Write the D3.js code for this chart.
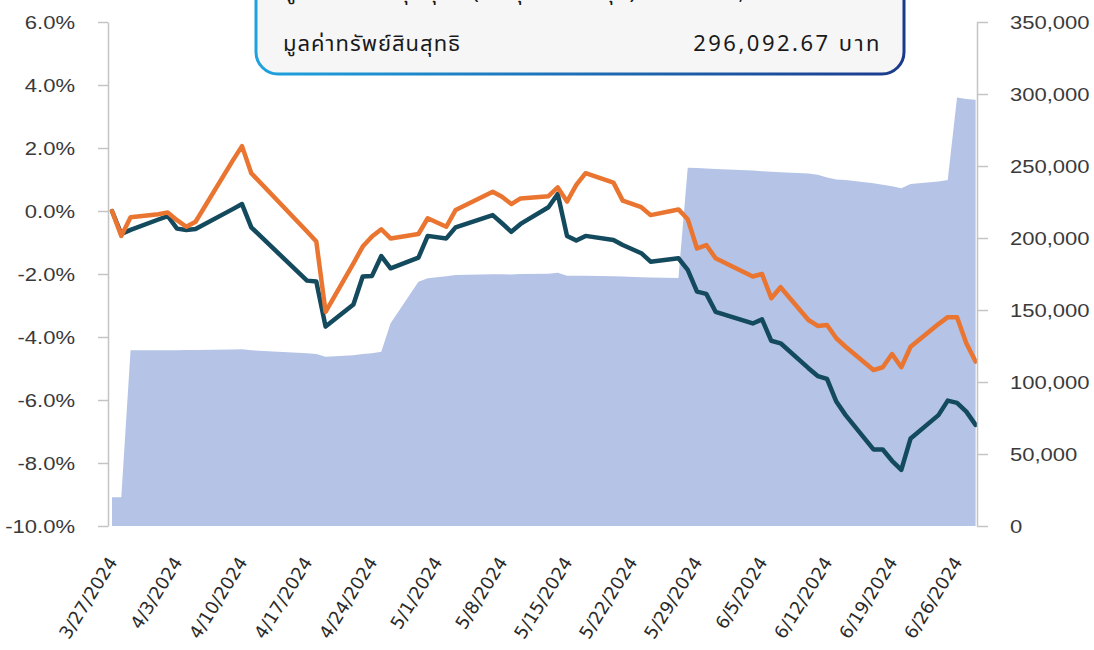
<!DOCTYPE html>
<html>
<head>
<meta charset="utf-8">
<script src="https://cdn.jsdelivr.net/npm/d3@7"></script>
<style>
  html, body { margin: 0; padding: 0; background: #ffffff; }
  svg { display: block; }
</style>
</head>
<body>
<svg id="chart" width="1094" height="650"></svg>
<script>
// ---------------- DATA ----------------
const dates = ["2024-03-27","2024-03-28","2024-03-29","2024-04-01","2024-04-02","2024-04-03","2024-04-04","2024-04-05","2024-04-09","2024-04-10","2024-04-11","2024-04-17","2024-04-18","2024-04-19","2024-04-22","2024-04-23","2024-04-24","2024-04-25","2024-04-26","2024-04-29","2024-04-30","2024-05-02","2024-05-03","2024-05-07","2024-05-08","2024-05-09","2024-05-10","2024-05-13","2024-05-14","2024-05-15","2024-05-16","2024-05-17","2024-05-20","2024-05-21","2024-05-23","2024-05-24","2024-05-27","2024-05-28","2024-05-29","2024-05-30","2024-05-31","2024-06-04","2024-06-05","2024-06-06","2024-06-07","2024-06-10","2024-06-11","2024-06-12","2024-06-13","2024-06-14","2024-06-17","2024-06-18","2024-06-19","2024-06-20","2024-06-21","2024-06-24","2024-06-25","2024-06-26","2024-06-27","2024-06-28"];

// return series A (orange), %
const returnA = [0.00,-0.79,-0.20,-0.10,-0.05,-0.29,-0.50,-0.34,1.60,2.06,1.20,-0.65,-0.97,-3.20,-1.66,-1.13,-0.81,-0.58,-0.87,-0.73,-0.23,-0.50,0.03,0.61,0.45,0.22,0.40,0.47,0.75,0.30,0.83,1.20,0.90,0.33,0.12,-0.13,0.05,-0.26,-1.19,-1.08,-1.50,-2.08,-2.00,-2.77,-2.42,-3.46,-3.65,-3.62,-4.04,-4.31,-5.05,-4.96,-4.54,-4.96,-4.31,-3.59,-3.37,-3.37,-4.20,-4.78];

// return series B (dark teal), %
const returnB = [0.00,-0.73,-0.60,-0.27,-0.16,-0.56,-0.60,-0.57,0.06,0.22,-0.52,-2.21,-2.24,-3.67,-2.97,-2.08,-2.06,-1.43,-1.82,-1.48,-0.79,-0.87,-0.52,-0.13,-0.39,-0.66,-0.41,0.12,0.54,-0.79,-0.94,-0.79,-0.92,-1.08,-1.34,-1.61,-1.50,-1.87,-2.56,-2.63,-3.20,-3.57,-3.44,-4.12,-4.20,-4.99,-5.24,-5.33,-6.05,-6.48,-7.57,-7.57,-7.93,-8.22,-7.22,-6.48,-6.02,-6.09,-6.37,-6.79];

// net asset value (area, right axis), baht
const navValues = [20000,20000,122000,122000,122000,122100,122200,122300,122600,122700,122000,120000,119400,117600,118600,119400,120000,121000,140800,169700,172000,173500,174300,174800,174800,174600,175000,175200,175900,173800,173800,173700,173500,173300,172800,172500,172200,248800,248600,248300,248000,246800,246300,246000,245700,244800,244000,242100,240700,240300,238000,237000,236000,234500,237500,239200,240300,297500,296600,296092.67];

const leftTicks = [-10,-8,-6,-4,-2,0,2,4,6];
const rightTicks = [0,50000,100000,150000,200000,250000,300000,350000];
const xTickDates = ["2024-03-27","2024-04-03","2024-04-10","2024-04-17","2024-04-24","2024-05-01","2024-05-08","2024-05-15","2024-05-22","2024-05-29","2024-06-05","2024-06-12","2024-06-19","2024-06-26"];

const boxRow1Label = "มูลค่าเงินลงทุนสุทธิ (ต้นทุนการลงทุน)";
const boxRow1Value = "280,000.00 บาท";
const boxRow2Label = "มูลค่าทรัพย์สินสุทธิ";
const boxRow2Value = "296,092.67 บาท";

// ---------------- CHART ----------------
const svg = d3.select("#chart");
const parse = d3.utcParse("%Y-%m-%d");
const rows = dates.map((d, i) => ({ date: parse(d), a: returnA[i], b: returnB[i], nav: navValues[i] }));

const axisLeftX = 108, axisRightX = 977, yTop = 22, yBottom = 526;

const x = d3.scaleUtc()
  .domain([parse("2024-03-27"), parse("2024-06-28")])
  .range([112, 975.6]);
const yL = d3.scaleLinear().domain([-10, 6]).range([yBottom, yTop]);
const yR = d3.scaleLinear().domain([0, 350000]).range([yBottom, yTop]);

// area
svg.append("path")
  .datum(rows)
  .attr("fill", "#b4c3e6")
  .attr("d", d3.area().x(d => x(d.date)).y0(yR(0)).y1(d => yR(d.nav)));

// lines
svg.append("path")
  .datum(rows)
  .attr("fill", "none")
  .attr("stroke", "#144a5e")
  .attr("stroke-width", 4.5)
  .attr("stroke-linejoin", "round")
  .attr("stroke-linecap", "round")
  .attr("d", d3.line().x(d => x(d.date)).y(d => yL(d.b)));

svg.append("path")
  .datum(rows)
  .attr("fill", "none")
  .attr("stroke", "#e97531")
  .attr("stroke-width", 4.5)
  .attr("stroke-linejoin", "round")
  .attr("stroke-linecap", "round")
  .attr("d", d3.line().x(d => x(d.date)).y(d => yL(d.a)));

// axes
const sx = 1.16;
const gL = svg.append("g").attr("transform", `translate(${axisLeftX},0)`)
  .call(d3.axisLeft(yL).tickValues(leftTicks).tickSize(10).tickSizeOuter(0)
    .tickFormat(d => d.toFixed(1) + "%"));
const gR = svg.append("g").attr("transform", `translate(${axisRightX},0)`)
  .call(d3.axisRight(yR).tickValues(rightTicks).tickSize(11).tickSizeOuter(0)
    .tickFormat(d3.format(",")));
[gL, gR].forEach(g => {
  g.select(".domain").attr("stroke", "#c4c4c4").attr("stroke-width", 1.5);
  g.selectAll(".tick line").attr("stroke", "#c4c4c4").attr("stroke-width", 1.5);
  g.selectAll(".tick text")
    .attr("font-family", "'Liberation Sans', Arial, sans-serif")
    .attr("font-size", 19)
    .attr("fill", "#3a3a3a")
    .attr("dy", "0.35em");
});
gL.selectAll(".tick text").attr("x", -33 / sx).attr("transform", `scale(${sx},1)`);
gR.selectAll(".tick text").attr("x", 33 / sx).attr("transform", `scale(${sx},1)`);

// x labels
const fmtX = d3.utcFormat("%-m/%-d/%Y");
svg.append("g").selectAll("text")
  .data(xTickDates.map(parse))
  .join("text")
  .attr("transform", d => `translate(${x(d) + 6},562) rotate(-58)`)
  .attr("text-anchor", "end")
  .attr("font-family", "'DejaVu Sans', Verdana, sans-serif")
  .attr("font-size", 18)
  .attr("fill", "#2a2a2a")
  .text(d => fmtX(d));

// info box
const defs = svg.append("defs");
const grad = defs.append("linearGradient").attr("id", "bgrad")
  .attr("x1", "0%").attr("x2", "100%").attr("y1", "0%").attr("y2", "0%");
grad.append("stop").attr("offset", "0%").attr("stop-color", "#1ea2de");
grad.append("stop").attr("offset", "100%").attr("stop-color", "#1c3a8c");

const box = svg.append("g");
box.append("rect")
  .attr("x", 256).attr("y", -40).attr("width", 648).attr("height", 114)
  .attr("rx", 22).attr("ry", 22)
  .attr("fill", "#f6f6f6")
  .attr("stroke", "url(#bgrad)").attr("stroke-width", 3);
box.append("line")
  .attr("x1", 283).attr("x2", 882).attr("y1", 17).attr("y2", 17)
  .attr("stroke", "url(#bgrad)").attr("stroke-width", 1.5);

const thaiFont = "'Noto Sans Thai', 'Noto Sans', 'DejaVu Sans', sans-serif";
box.append("text").attr("x", 283).attr("y", -1)
  .attr("font-family", thaiFont).attr("font-size", 22).attr("fill", "#1a1a1a")
  .attr("letter-spacing", 1)
  .text(boxRow1Label);
box.append("text").attr("x", 882).attr("y", -1).attr("text-anchor", "end")
  .attr("font-family", thaiFont).attr("font-size", 22).attr("fill", "#1a1a1a")
  .attr("letter-spacing", 2.5)
  .text(boxRow1Value);
box.append("text").attr("x", 283).attr("y", 51)
  .attr("font-family", thaiFont).attr("font-size", 22).attr("fill", "#1a1a1a")
  .attr("letter-spacing", 1)
  .text(boxRow2Label);
box.append("text").attr("x", 882).attr("y", 51).attr("text-anchor", "end")
  .attr("font-family", thaiFont).attr("font-size", 22).attr("fill", "#1a1a1a")
  .attr("letter-spacing", 2.5)
  .text(boxRow2Value);
</script>
</body>
</html>
